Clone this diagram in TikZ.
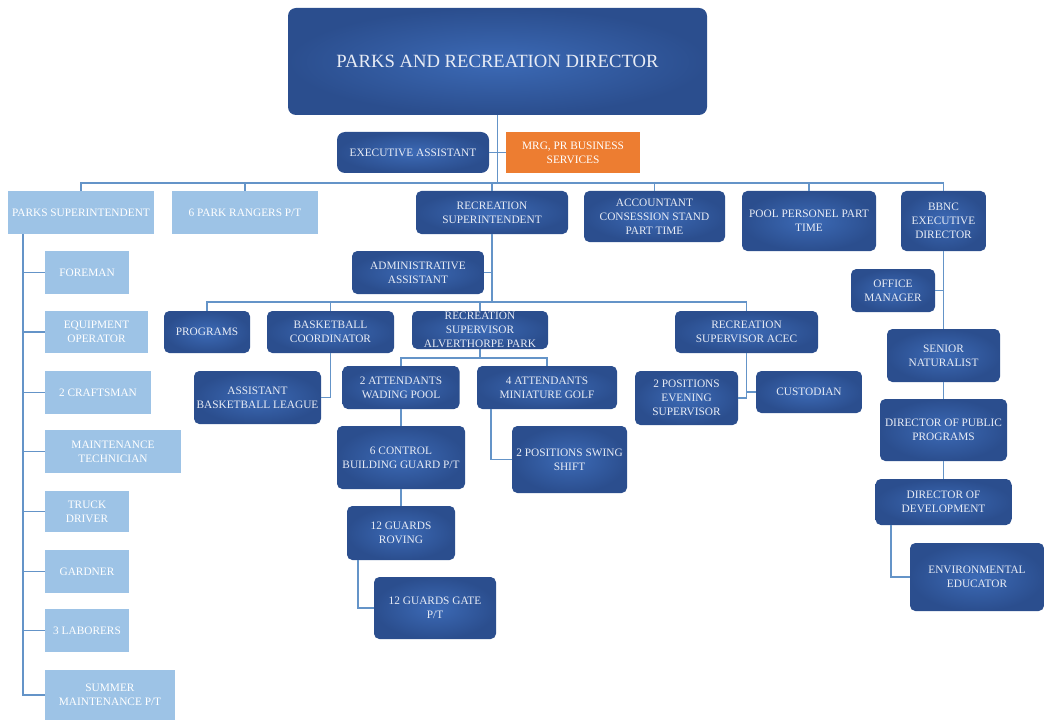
\documentclass[tikz,border=0pt]{standalone}
\usepackage{fontspec}
\setmainfont{Liberation Serif}
\definecolor{orgdark}{RGB}{43,78,142}
\definecolor{orglight}{RGB}{60,106,182}
\definecolor{orgpale}{RGB}{157,195,230}
\definecolor{orgorange}{RGB}{237,125,49}
\definecolor{orgline}{RGB}{100,148,200}
\definecolor{orgtext}{RGB}{232,236,245}
\newcommand\orgfont{\fontsize{8.5}{10.5}\selectfont}
\newcommand\topfont{\fontsize{14}{16}\selectfont}
\tikzset{
  wh/.style 2 args={minimum width=#1*0.75pt, minimum height=#2*0.75pt},
  orgbox/.style={align=center, inner sep=1pt, text=orgtext, font=\orgfont},
  darkbox/.style={orgbox, rounded corners=4pt, inner color=orglight, outer color=orgdark},
  palebox/.style={orgbox, fill=orgpale, text=white},
  orangebox/.style={orgbox, fill=orgorange, text=white},
  link/.style={draw=orgline, line width=1.3pt},
}
\begin{document}
\begin{tikzpicture}[x=0.75pt,y=-0.75pt]
  \useasboundingbox (0,0) rectangle (1044,720);
  % top
  \node[darkbox, wh={419}{107}, rounded corners=6pt, font=\topfont] (dir) at (497.5,61.5) {PARKS AND RECREATION DIRECTOR};
  \node[darkbox, wh={152}{41}, rounded corners=6pt] (ea) at (413,152.5) {EXECUTIVE ASSISTANT};
  \node[orangebox, wh={134}{41}] (mrg) at (573,152.5) {MRG, PR BUSINESS\\SERVICES};
  % first row
  \node[palebox, wh={146}{43}] (psup) at (81,212.5) {PARKS SUPERINTENDENT};
  \node[palebox, wh={146}{43}] (rang) at (245,212.5) {6 PARK RANGERS P/T};
  \node[darkbox, wh={152}{43}] (rsup) at (492,212.5) {RECREATION\\SUPERINTENDENT};
  \node[darkbox, wh={141}{51}] (acct) at (654.5,216.5) {ACCOUNTANT\\CONSESSION STAND\\PART TIME};
  \node[darkbox, wh={134}{60}] (pool) at (809,221) {POOL PERSONEL PART\\TIME};
  \node[darkbox, wh={85}{60}] (bbnc) at (943.5,221) {BBNC\\EXECUTIVE\\DIRECTOR};
  % parks
  \node[palebox, wh={84}{43}] (fore) at (87,272.5) {FOREMAN};
  \node[palebox, wh={103}{42}] (equip) at (96.5,332) {EQUIPMENT\\OPERATOR};
  \node[palebox, wh={106}{43}] (craft) at (98,392.5) {2 CRAFTSMAN};
  \node[palebox, wh={136}{43}] (maint) at (113,451.5) {MAINTENANCE\\TECHNICIAN};
  \node[palebox, wh={84}{41}] (truck) at (87,511.5) {TRUCK\\DRIVER};
  \node[palebox, wh={84}{43}] (gard) at (87,571.5) {GARDNER};
  \node[palebox, wh={84}{43}] (labor) at (87,630.5) {3 LABORERS};
  \node[palebox, wh={130}{50}] (summer) at (110,695) {SUMMER\\MAINTENANCE P/T};
  % recreation
  \node[darkbox, wh={132}{43}] (admin) at (418,272.5) {ADMINISTRATIVE\\ASSISTANT};
  \node[darkbox, wh={86}{42}] (prog) at (207,332) {PROGRAMS};
  \node[darkbox, wh={127}{42}] (bask) at (330.5,332) {BASKETBALL\\COORDINATOR};
  \node[darkbox, wh={136}{38}, inner sep=0pt] (alv) at (480,330) {RECREATION\\SUPERVISOR\\ALVERTHORPE PARK};
  \node[darkbox, wh={143}{42}] (acec) at (746.5,332) {RECREATION\\SUPERVISOR ACEC};
  \node[darkbox, wh={127}{53}] (asst) at (257.5,397.5) {ASSISTANT\\BASKETBALL LEAGUE};
  \node[darkbox, wh={117}{43}] (wade) at (401,387.5) {2 ATTENDANTS\\WADING POOL};
  \node[darkbox, wh={140}{43}] (golf) at (547,387.5) {4 ATTENDANTS\\MINIATURE GOLF};
  \node[darkbox, wh={128}{63}] (ctrl) at (401,457.5) {6 CONTROL\\BUILDING GUARD P/T};
  \node[darkbox, wh={108}{54}] (rov) at (401,533) {12 GUARDS\\ROVING};
  \node[darkbox, wh={122}{62}] (gate) at (435,608) {12 GUARDS GATE\\P/T};
  \node[darkbox, wh={115}{67}] (swing) at (569.5,459.5) {2 POSITIONS SWING\\SHIFT};
  \node[darkbox, wh={103}{54}] (eve) at (686.5,398) {2 POSITIONS\\EVENING\\SUPERVISOR};
  \node[darkbox, wh={106}{42}] (cust) at (809,392) {CUSTODIAN};
  % bbnc
  \node[darkbox, wh={84}{43}] (office) at (893,290.5) {OFFICE\\MANAGER};
  \node[darkbox, wh={113}{53}] (sennat) at (943.5,355.5) {SENIOR\\NATURALIST};
  \node[darkbox, wh={127}{62}] (dpp) at (943.5,430) {DIRECTOR OF PUBLIC\\PROGRAMS};
  \node[darkbox, wh={136}{46}] (ddev) at (943.5,502) {DIRECTOR OF\\DEVELOPMENT};
  \node[darkbox, wh={134}{68}] (env) at (977,577) {ENVIRONMENTAL\\EDUCATOR};
  % connectors
  \draw[link] (dir.south) -- ++(0,68);
  \draw[link] (ea) -- (mrg);
  \draw[link] (psup.north) -- ++(0,-8) -| (bbnc.north);
  \foreach \n in {rang,rsup,acct,pool}
    \draw[link] (\n.north) -- ++(0,-8);
  \coordinate (pspine) at (23,234);
  \foreach \n in {fore,equip,craft,maint,truck,gard,labor,summer}
    \draw[link] (pspine) |- (\n.west);
  \draw[link] (rsup.south) -- ++(0,68);
  \draw[link] (admin.east) -- (admin.east -| rsup.south);
  \draw[link] (prog.north) -- ++(0,-9) -| (acec.north);
  \draw[link] (bask.north) -- ++(0,-9);
  \draw[link] (alv.north) -- ++(0,-9);
  \draw[link] (bask.south) |- (asst.east);
  \draw[link] (alv.south) -- ++(0,9);
  \draw[link] (wade.north) -- ++(0,-8) -| (golf.north);
  \draw[link] (wade) -- (ctrl);
  \draw[link] (ctrl) -- (rov);
  \coordinate (rovfoot) at (358,560);
  \draw[link] (rovfoot) |- (gate.west);
  \coordinate (golffoot) at (491,409);
  \draw[link] (golffoot) |- (swing.west);
  \draw[link] (acec.south) |- (cust.west);
  \draw[link] (acec.south) |- (eve.east);
  \draw[link] (bbnc) -- (sennat);
  \draw[link] (office.east) -- (office.east -| bbnc.south);
  \draw[link] (sennat) -- (dpp);
  \draw[link] (dpp) -- (ddev);
  \coordinate (devfoot) at (891,525);
  \draw[link] (devfoot) |- (env.west);
\end{tikzpicture}
\end{document}
